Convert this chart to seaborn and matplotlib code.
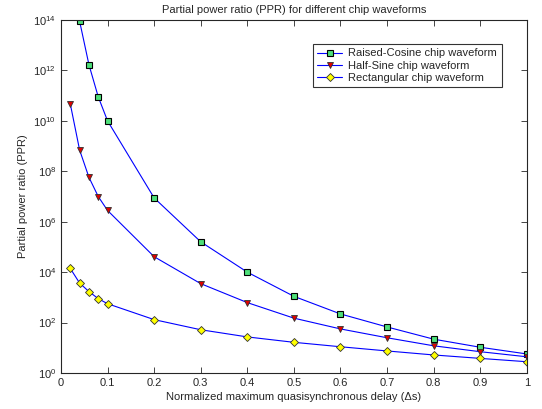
import matplotlib
matplotlib.use('Agg')
import matplotlib.pyplot as plt
import seaborn as sns
import numpy as np

# delay values (x) for each waveform
x_rc = [0.04, 0.06, 0.08, 0.1, 0.2, 0.3, 0.4, 0.5, 0.6, 0.7, 0.8, 0.9, 1.0]
x_hs = [0.02, 0.04, 0.06, 0.08, 0.1, 0.2, 0.3, 0.4, 0.5, 0.6, 0.7, 0.8, 0.9, 1.0]
x_rect = [0.02, 0.04, 0.06, 0.08, 0.1, 0.2, 0.3, 0.4, 0.5, 0.6, 0.7, 0.8, 0.9, 1.0]

# PPR values
ppr_rc = [9e13, 1.7e12, 9e10, 1e10, 8.8e6, 1.6e5, 1e4, 1.1e3, 220, 67, 22, 10.5, 5.7]
ppr_hs = [4.7e10, 7e8, 5.8e7, 1e7, 2.8e6, 4.1e4, 3.5e3, 620, 150, 56, 25, 12, 7, 4.4]
ppr_rect = [1.4e4, 3.7e3, 1.7e3, 890, 560, 131, 52, 27, 16.5, 11, 7.5, 5.2, 3.8, 2.8]

labels = ['Raised-Cosine chip waveform', 'Half-Sine chip waveform', 'Rectangular chip waveform']

sns.set_style('ticks')
plt.rcParams['font.family'] = ['Liberation Sans', 'DejaVu Sans']
plt.rcParams['mathtext.default'] = 'regular'

fig = plt.figure(figsize=(5.42, 4.09), dpi=100)
ax = fig.add_axes([0.1125, 0.088, 0.8595, 0.863])

sns.lineplot(x=x_rc, y=ppr_rc, ax=ax, color='blue', lw=0.8, marker='s', markersize=5,
             markerfacecolor='#4ee07a', markeredgecolor='black', markeredgewidth=0.8, label=labels[0])
sns.lineplot(x=x_hs, y=ppr_hs, ax=ax, color='blue', lw=0.8, marker='v', markersize=5,
             markerfacecolor='#e00000', markeredgecolor='#303030', markeredgewidth=0.6, label=labels[1])
sns.lineplot(x=x_rect, y=ppr_rect, ax=ax, color='blue', lw=0.8, marker='D', markersize=4,
             markerfacecolor='#ffff00', markeredgecolor='#303030', markeredgewidth=0.6, label=labels[2])

ax.set_yscale('log')
ax.set_xlim(0, 1)
ax.set_ylim(1, 1e14)
ax.set_xticks(np.arange(0, 1.01, 0.1))
ax.set_xticklabels(['0', '0.1', '0.2', '0.3', '0.4', '0.5', '0.6', '0.7', '0.8', '0.9', '1'])
ax.set_yticks([10.0 ** k for k in range(0, 15, 2)])
ax.set_yticklabels(['$10^{%d}$' % k for k in range(0, 15, 2)])
ax.yaxis.set_minor_locator(matplotlib.ticker.NullLocator())
ax.tick_params(direction='in', top=True, right=True, labelsize=8, length=4, width=0.6)
for s in ax.spines.values():
    s.set_linewidth(0.8)
    s.set_visible(True)

ax.set_title('Partial power ratio (PPR) for different chip waveforms', fontsize=8, pad=5)
ax.set_xlabel('Normalized maximum quasisynchronous delay (\u0394s)', fontsize=8, labelpad=3)
ax.set_ylabel('Partial power ratio (PPR)', fontsize=8, labelpad=4)

leg = ax.legend(loc='upper right', bbox_to_anchor=(0.946, 0.932), borderaxespad=0, fontsize=8,
                frameon=True, fancybox=False, edgecolor='black', handlelength=2.2, borderpad=0.4,
                labelspacing=0.2, handletextpad=0.6)
leg.get_frame().set_linewidth(0.8)

fig.savefig('out.png', dpi=100)
